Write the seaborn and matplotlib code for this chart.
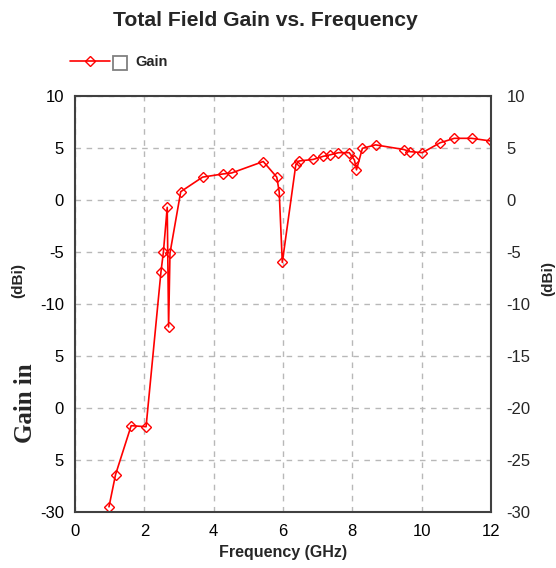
import matplotlib
matplotlib.use("Agg")
import matplotlib.pyplot as plt
import matplotlib.lines as mlines
import matplotlib.patches as mpatches
import seaborn as sns
import pandas as pd

# ---- data ----
freq_ghz = [0.98, 1.17, 1.62, 2.05, 2.48, 2.55, 2.66, 2.70, 2.74, 3.05, 3.68, 4.26,
            4.52, 5.43, 5.82, 5.89, 5.98, 6.37, 6.46, 6.87, 7.16, 7.37, 7.60, 7.91,
            8.06, 8.12, 8.29, 8.67, 9.49, 9.66, 10.02, 10.53, 10.94, 11.44, 12.0]
gain_dbi = [-29.5, -26.4, -21.7, -21.8, -6.9, -5.0, -0.7, -12.2, -5.1, 0.8, 2.2, 2.5,
            2.6, 3.7, 2.2, 0.8, -6.0, 3.4, 3.75, 3.9, 4.2, 4.35, 4.55, 4.55,
            3.85, 2.9, 4.97, 5.3, 4.85, 4.65, 4.55, 5.5, 5.93, 5.93, 5.67]
x_ticks = [0, 2, 4, 6, 8, 10, 12]
y_ticks = [10, 5, 0, -5, -10, -15, -20, -25, -30]
left_tick_labels = ["10", "5", "0", "-5", "-10", "5", "0", "5", "-30"]
right_tick_labels = ["10", "5", "0", "-5", "-10", "-15", "-20", "-25", "-30"]
series_name = "Gain"

sns.set_style("white")
plt.rcParams["font.family"] = ["Liberation Sans", "DejaVu Sans"]

fig = plt.figure(figsize=(5.56, 5.68), dpi=100)
ax = fig.add_axes([0.1349, 0.0986, 0.7482, 0.7324])

df = pd.DataFrame({"Frequency": freq_ghz, "Gain": gain_dbi})
sns.lineplot(data=df, x="Frequency", y="Gain", ax=ax, sort=False, estimator=None,
             color="#ff0000", linewidth=1.2, marker="D", markersize=5,
             markerfacecolor="none", markeredgecolor="#ff0000", markeredgewidth=1.0)

ax.set_xlim(0, 12)
ax.set_ylim(-30, 10)
ax.set_xticks(x_ticks)
ax.set_xticklabels([str(t) for t in x_ticks])
ax.set_yticks(y_ticks)
ax.set_yticklabels(left_tick_labels)
ax.grid(True, color="#b8b8b8", linestyle=(0, (4, 4)), linewidth=1.0)
ax.tick_params(axis="both", length=0, labelsize=12, colors="#000000")
ax.tick_params(axis="y", pad=8)
ax.tick_params(axis="x", pad=9)
for s in ax.spines.values():
    s.set_color("#404040")
    s.set_linewidth(1.5)
ax.set_xlabel("Frequency (GHz)", fontsize=11.5, fontweight="bold", labelpad=4)
ax.set_ylabel("")

ax2 = ax.twinx()
ax2.set_ylim(-30, 10)
ax2.set_yticks(y_ticks)
ax2.set_yticklabels(right_tick_labels)
ax2.tick_params(axis="y", length=0, labelsize=12, pad=11)
for s in ax2.spines.values():
    s.set_visible(False)

fig.text(0.478, 1 - 21 / 568, "Total Field Gain vs. Frequency", ha="center", va="center",
         fontsize=15.2, fontweight="bold")

# legend
leg_handle = mlines.Line2D([], [], color="#ff0000", linewidth=1.2, marker="D",
                           markersize=5, markerfacecolor="none", markeredgecolor="#ff0000")
fig.legend(handles=[leg_handle], labels=[series_name], loc="center left",
           bbox_to_anchor=(70 / 556, 1 - 62 / 568), frameon=False, handlelength=2.75,
           handletextpad=1.75, borderpad=0, borderaxespad=0,
           prop={"weight": "bold", "size": 10.5})
fig.patches.append(mpatches.Rectangle((113 / 556, 1 - 70 / 568), 14 / 556, 14 / 568,
                                      transform=fig.transFigure, fill=False,
                                      edgecolor="#808080", linewidth=1.3))

# y-axis label fragments
fig.text(18 / 556, 1 - 280 / 568, "(dBi)", rotation=90, ha="center", va="center",
         fontsize=11, fontweight="bold")
fig.text(25 / 556, 1 - 403 / 568, "Gain in", rotation=90, ha="center", va="center",
         fontsize=18, fontweight="bold", family=["Liberation Serif", "DejaVu Serif"])
fig.text(548 / 556, 1 - 278 / 568, "(dBi)", rotation=90, ha="center", va="center",
         fontsize=11, fontweight="bold")

fig.savefig("out.png", dpi=100)
